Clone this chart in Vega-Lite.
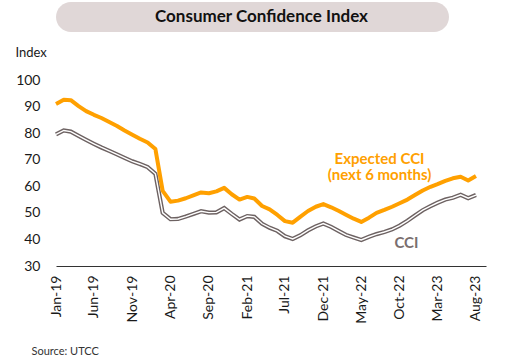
{
  "$schema": "https://vega.github.io/schema/vega-lite/v6.json",
  "padding": {"left": 15, "top": 2, "right": 5, "bottom": 5},
  "background": "white",
  "spacing": 14,
  "config": {
    "font": "Lato",
    "view": {"stroke": null},
    "axis": {"labelFont": "Lato", "titleFont": "Lato", "labelColor": "#1a1a1a", "titleColor": "#1a1a1a", "labelOverlap": false},
    "axisY": {"labelOverlap": false, "ticks": false, "grid": false, "domain": false, "labelFontSize": 14, "labelPadding": 16}
  },
  "vconcat": [
    {
      "width": 393,
      "height": 30,
      "view": {"fill": "#e0d7d7", "cornerRadius": 15, "stroke": null},
      "data": {"values": [{"t": "Consumer Confidence Index"}]},
      "mark": {"type": "text", "font": "Lato", "fontWeight": "bold", "fontSize": 17, "color": "#111111", "baseline": "middle", "dx": 9},
      "encoding": {
        "text": {"field": "t"},
        "y": {"field": "t", "type": "nominal", "axis": {"labels": false, "ticks": false, "domain": false, "grid": false,
          "title": "Index", "titleAngle": 0, "titleFontSize": 13, "titleFontWeight": "normal", "titleAlign": "left", "titleBaseline": "middle", "titleX": -41, "titleY": 50}}
      }
    },
    {
      "width": 430,
      "height": 186,
      "data": {"values": [
        {"m": "2019-01-01", "exp": 91.0, "cci": 79.5},
        {"m": "2019-02-01", "exp": 92.6, "cci": 81.0},
        {"m": "2019-03-01", "exp": 92.4, "cci": 80.6},
        {"m": "2019-04-01", "exp": 90.2, "cci": 79.0},
        {"m": "2019-05-01", "exp": 88.3, "cci": 77.5},
        {"m": "2019-06-01", "exp": 86.9, "cci": 76.0},
        {"m": "2019-07-01", "exp": 85.7, "cci": 74.6},
        {"m": "2019-08-01", "exp": 84.2, "cci": 73.3},
        {"m": "2019-09-01", "exp": 82.7, "cci": 72.0},
        {"m": "2019-10-01", "exp": 81.0, "cci": 70.7},
        {"m": "2019-11-01", "exp": 79.4, "cci": 69.4},
        {"m": "2019-12-01", "exp": 77.9, "cci": 68.4},
        {"m": "2020-01-01", "exp": 76.5, "cci": 67.2},
        {"m": "2020-02-01", "exp": 74.0, "cci": 64.7},
        {"m": "2020-03-01", "exp": 58.3, "cci": 50.0},
        {"m": "2020-04-01", "exp": 54.2, "cci": 47.6},
        {"m": "2020-05-01", "exp": 54.6, "cci": 47.7},
        {"m": "2020-06-01", "exp": 55.5, "cci": 48.6},
        {"m": "2020-07-01", "exp": 56.6, "cci": 49.6},
        {"m": "2020-08-01", "exp": 57.7, "cci": 50.6},
        {"m": "2020-09-01", "exp": 57.4, "cci": 50.1},
        {"m": "2020-10-01", "exp": 58.1, "cci": 50.2},
        {"m": "2020-11-01", "exp": 59.4, "cci": 51.8},
        {"m": "2020-12-01", "exp": 57.0, "cci": 49.6},
        {"m": "2021-01-01", "exp": 55.0, "cci": 47.5},
        {"m": "2021-02-01", "exp": 56.0, "cci": 48.8},
        {"m": "2021-03-01", "exp": 55.4, "cci": 48.5},
        {"m": "2021-04-01", "exp": 52.6, "cci": 45.9},
        {"m": "2021-05-01", "exp": 51.3, "cci": 44.4},
        {"m": "2021-06-01", "exp": 49.2, "cci": 43.2},
        {"m": "2021-07-01", "exp": 46.9, "cci": 41.2},
        {"m": "2021-08-01", "exp": 46.3, "cci": 40.2},
        {"m": "2021-09-01", "exp": 48.6, "cci": 41.6},
        {"m": "2021-10-01", "exp": 50.7, "cci": 43.4},
        {"m": "2021-11-01", "exp": 52.3, "cci": 44.9},
        {"m": "2021-12-01", "exp": 53.3, "cci": 46.0},
        {"m": "2022-01-01", "exp": 52.1, "cci": 44.7},
        {"m": "2022-02-01", "exp": 50.7, "cci": 43.1},
        {"m": "2022-03-01", "exp": 49.3, "cci": 41.7},
        {"m": "2022-04-01", "exp": 47.8, "cci": 40.7},
        {"m": "2022-05-01", "exp": 46.6, "cci": 39.8},
        {"m": "2022-06-01", "exp": 48.2, "cci": 41.0},
        {"m": "2022-07-01", "exp": 50.0, "cci": 42.0},
        {"m": "2022-08-01", "exp": 51.1, "cci": 42.8},
        {"m": "2022-09-01", "exp": 52.3, "cci": 43.8},
        {"m": "2022-10-01", "exp": 53.6, "cci": 45.2},
        {"m": "2022-11-01", "exp": 55.0, "cci": 47.0},
        {"m": "2022-12-01", "exp": 56.7, "cci": 49.0},
        {"m": "2023-01-01", "exp": 58.4, "cci": 51.0},
        {"m": "2023-02-01", "exp": 59.8, "cci": 52.5},
        {"m": "2023-03-01", "exp": 60.8, "cci": 53.8},
        {"m": "2023-04-01", "exp": 62.0, "cci": 55.0},
        {"m": "2023-05-01", "exp": 63.0, "cci": 55.7},
        {"m": "2023-06-01", "exp": 63.6, "cci": 56.8},
        {"m": "2023-07-01", "exp": 62.2, "cci": 55.5},
        {"m": "2023-08-01", "exp": 63.9, "cci": 56.7}
      ]},
      "encoding": {
        "x": {
          "field": "m", "type": "temporal",
          "scale": {"type": "utc", "domain": [{"year": 2019, "month": 1, "date": 1, "utc": true}, {"year": 2023, "month": 9, "date": 10, "utc": true}]},
          "axis": {
            "values": [
              {"year": 2019, "month": 1, "date": 1, "utc": true},
              {"year": 2019, "month": 6, "date": 1, "utc": true},
              {"year": 2019, "month": 11, "date": 1, "utc": true},
              {"year": 2020, "month": 4, "date": 1, "utc": true},
              {"year": 2020, "month": 9, "date": 1, "utc": true},
              {"year": 2021, "month": 2, "date": 1, "utc": true},
              {"year": 2021, "month": 7, "date": 1, "utc": true},
              {"year": 2021, "month": 12, "date": 1, "utc": true},
              {"year": 2022, "month": 5, "date": 1, "utc": true},
              {"year": 2022, "month": 10, "date": 1, "utc": true},
              {"year": 2023, "month": 3, "date": 1, "utc": true},
              {"year": 2023, "month": 8, "date": 1, "utc": true}
            ],
            "labelExpr": "utcFormat(datum.value, '%b-%y')",
            "labelAngle": -90,
            "labelAlign": "right",
            "labelBaseline": "middle",
            "labelFontSize": 14,
            "labelPadding": 9,
            "labelOverlap": false,
            "labelFlush": false,
            "ticks": false,
            "grid": false,
            "domain": true,
            "domainColor": "#333333",
            "domainWidth": 1,
            "title": "Source:  UTCC",
            "titleFontSize": 11,
            "titleFontWeight": "normal",
            "titleColor": "#333333",
            "titleAlign": "left",
            "titleAnchor": "start",
            "titleBaseline": "middle",
            "titleX": -25,
            "titleY": 85
          }
        },
        "y": {
          "field": "cci", "type": "quantitative",
          "scale": {"domain": [30, 100], "nice": false, "zero": false},
          "axis": {
            "values": [30, 40, 50, 60, 70, 80, 90, 100],
            "labelOverlap": false,
            "title": null
          }
        }
      },
      "layer": [
        {
          "mark": {"type": "line", "color": "#6d6262", "strokeWidth": 4.2, "strokeJoin": "miter"}
        },
        {
          "mark": {"type": "line", "color": "#ffffff", "strokeWidth": 1.4, "strokeJoin": "miter"}
        },
        {
          "mark": {"type": "line", "color": "#ffa000", "strokeWidth": 4, "strokeJoin": "round"},
          "encoding": {"y": {"field": "exp", "type": "quantitative"}}
        },
        {
          "transform": [{"aggregate": [{"op": "max", "field": "m", "as": "m"}, {"op": "max", "field": "cci", "as": "cci"}]}],
          "mark": {"type": "text", "text": ["Expected CCI", "(next 6 months)"], "font": "Lato", "fontWeight": "bold", "fontSize": 15, "lineHeight": 16, "color": "#ffa000", "align": "center", "baseline": "middle", "invalid": "show"},
          "encoding": {
            "x": {"datum": {"year": 2022, "month": 7, "date": 13, "utc": true}, "type": "temporal"},
            "y": {"datum": 70.2, "type": "quantitative"}
          }
        },
        {
          "transform": [{"aggregate": [{"op": "max", "field": "m", "as": "m"}, {"op": "max", "field": "cci", "as": "cci"}]}],
          "mark": {"type": "text", "text": "CCI", "font": "Lato", "fontWeight": "bold", "fontSize": 15, "color": "#7a6e6e", "align": "center", "baseline": "middle", "invalid": "show"},
          "encoding": {
            "x": {"datum": {"year": 2022, "month": 10, "date": 28, "utc": true}, "type": "temporal"},
            "y": {"datum": 38.5, "type": "quantitative"}
          }
        }
      ]
    }
  ]
}
